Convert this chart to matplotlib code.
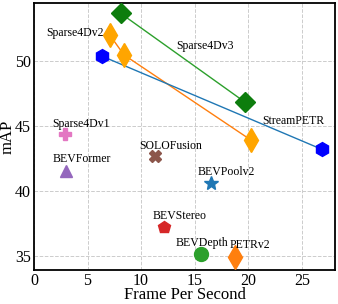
import matplotlib
matplotlib.use("Agg")
import matplotlib.pyplot as plt

plt.rcParams['font.family'] = ['Liberation Serif', 'DejaVu Serif']

# Data
s4v3_fps = [8.1, 19.7]
s4v3_map = [53.7, 46.85]
s4v2_fps = [7.1, 8.4, 20.3]
s4v2_map = [52.0, 50.5, 43.9]
stream_fps = [6.35, 26.9]
stream_map = [50.4, 43.2]

single_names = ["Sparse4Dv1", "BEVFormer", "SOLOFusion", "BEVPoolv2", "BEVStereo", "BEVDepth", "PETRv2"]
single_fps = [2.9, 3.0, 11.3, 16.5, 12.1, 15.6, 18.8]
single_map = [44.4, 41.5, 42.7, 40.6, 37.2, 35.1, 34.9]

fig = plt.figure(figsize=(3.38, 3.04), dpi=100)
ax = fig.add_axes([0.1006, 0.112, 0.8904, 0.878])

ax.plot(s4v3_fps, s4v3_map, color='#2ca02c', lw=1.0, zorder=2)
ax.plot(s4v3_fps, s4v3_map, ls='none', marker='D', ms=10, color='#0d7d0d', zorder=3)
ax.plot(s4v2_fps, s4v2_map, color='#ff7f0e', lw=1.0, zorder=2)
ax.plot(s4v2_fps, s4v2_map, ls='none', marker='d', ms=12, color='#ffa500', zorder=3)
ax.plot(stream_fps, stream_map, color='#1f77b4', lw=1.0, zorder=2)
ax.plot(stream_fps, stream_map, ls='none', marker='h', ms=10, color='#0000ff', zorder=3)

styles = [
    ('P', 9, '#e377c2'),
    ('^', 9, '#9467bd'),
    ('X', 9, '#8c564b'),
    ('*', 10, '#1f77b4'),
    ('p', 9, '#d62728'),
    ('o', 10, '#2ca02c'),
    ('d', 12, '#ff7f0e'),
]
for x, y, (m, s, c) in zip(single_fps, single_map, styles):
    ax.plot([x], [y], ls='none', marker=m, ms=s, color=c, zorder=3)

fs = 8.5
ax.text(6.5, 52.2, "Sparse4Dv2", ha='right', va='center', fontsize=fs)
ax.text(13.3, 51.15, "Sparse4Dv3", ha='left', va='center', fontsize=fs)
ax.text(21.3, 45.4, "StreamPETR", ha='left', va='center', fontsize=fs)
label_pos = [(1.7, 45.2), (1.78, 42.46), (9.8, 43.5), (15.3, 41.46), (11.1, 38.1), (13.2, 36.0), (18.3, 35.85)]
for name, (tx, ty) in zip(single_names, label_pos):
    ax.text(tx, ty, name, ha='left', va='center', fontsize=fs)

ax.set_xlim(0, 28.1)
ax.set_ylim(33.9, 54.5)
ax.set_xticks([0, 5, 10, 15, 20, 25])
ax.set_yticks([35, 40, 45, 50])
ax.tick_params(labelsize=11.5, length=0, pad=2)
ax.grid(True, ls='--', color='#cccccc', lw=0.7)
ax.set_axisbelow(True)
for sp in ax.spines.values():
    sp.set_linewidth(1.3)
ax.set_xlabel("Frame Per Second", fontsize=12, labelpad=-1)
ax.set_ylabel("mAP", fontsize=12)
ax.yaxis.set_label_coords(-0.062, 0.5)

fig.savefig("out.png", dpi=100)
